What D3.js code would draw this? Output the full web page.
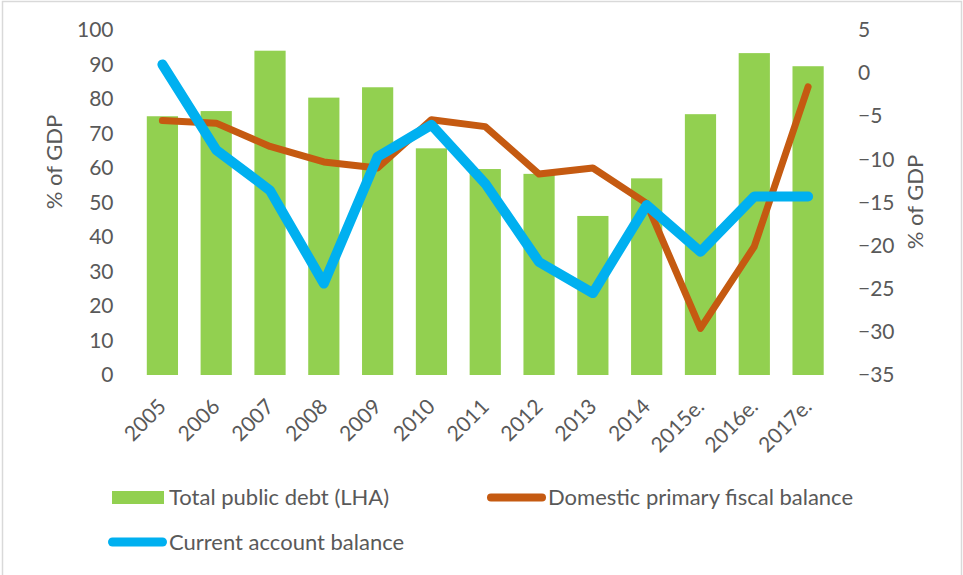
<!DOCTYPE html>
<html>
<head>
<meta charset="utf-8">
<script src="https://cdn.jsdelivr.net/npm/d3@7"></script>
<style>
  html, body { margin: 0; padding: 0; background: #fff; }
  svg { display: block; }
  text { font-family: Lato, "Open Sans", sans-serif; fill: #595959; }
</style>
</head>
<body>
<svg id="chart" width="963" height="575"></svg>
<script>
// Years (last three are estimates)
const years = ["2005", "2006", "2007", "2008", "2009", "2010", "2011", "2012", "2013", "2014", "2015e.", "2016e.", "2017e."];

// Total public debt, % of GDP (left axis)
const publicDebt = [75.0, 76.5, 94.0, 80.4, 83.4, 65.7, 59.7, 58.3, 46.1, 57.0, 75.6, 93.3, 89.5];

// Domestic primary fiscal balance, % of GDP (right axis)
const fiscalBalance = [-5.5, -5.8, -8.5, -10.3, -11.0, -5.4, -6.2, -11.7, -11.0, -15.1, -29.6, -20.1, -1.6];

// Current account balance, % of GDP (right axis)
const currentAccount = [1.0, -8.9, -13.6, -24.4, -9.7, -6.0, -12.8, -21.9, -25.5, -15.3, -20.7, -14.3, -14.3];

// Axis ticks
const leftTicks = [0, 10, 20, 30, 40, 50, 60, 70, 80, 90, 100];
const rightTicks = [5, 0, -5, -10, -15, -20, -25, -30, -35];

const svg = d3.select("#chart");
const W = 963, H = 575;

// frame
svg.append("rect")
  .attr("x", 2.5).attr("y", 1.5)
  .attr("width", W - 4).attr("height", H + 10)
  .attr("fill", "#fff")
  .attr("stroke", "#d9d9d9").attr("stroke-width", 1.5);

const plot = { left: 135.5, right: 835, top: 30, bottom: 375 };

const x = d3.scaleBand()
  .domain(years)
  .range([plot.left, plot.right])
  .paddingInner(0.42)
  .paddingOuter(0.21);

const yL = d3.scaleLinear().domain([0, 100]).range([plot.bottom, plot.top]);
const yR = d3.scaleLinear().domain([-35, 5]).range([plot.bottom, plot.top]);

const green = "#92d050", orange = "#c55a11", blue = "#00b0f0";
const tickSize = 21, labelSize = 22;
const family = "Lato, 'Open Sans', sans-serif";

// bars
svg.append("g").selectAll("rect")
  .data(years)
  .join("rect")
  .attr("x", d => x(d))
  .attr("width", x.bandwidth())
  .attr("y", (d, i) => yL(publicDebt[i]))
  .attr("height", (d, i) => yL(0) - yL(publicDebt[i]))
  .attr("fill", green);

const cx = d => x(d) + x.bandwidth() / 2;

const balanceLine = d3.line()
  .x((d, i) => cx(years[i]))
  .y(d => yR(d));

svg.append("path")
  .datum(fiscalBalance)
  .attr("d", balanceLine)
  .attr("fill", "none")
  .attr("stroke", orange)
  .attr("stroke-width", 7)
  .attr("stroke-linejoin", "round")
  .attr("stroke-linecap", "round");

svg.append("path")
  .datum(currentAccount)
  .attr("d", balanceLine)
  .attr("fill", "none")
  .attr("stroke", blue)
  .attr("stroke-width", 10)
  .attr("stroke-linejoin", "round")
  .attr("stroke-linecap", "round");

// left axis
const axL = svg.append("g")
  .attr("transform", `translate(${plot.left - 22},0)`)
  .call(d3.axisLeft(yL).tickValues(leftTicks).tickSize(0).tickPadding(0));
axL.select(".domain").remove();
axL.selectAll("text")
  .attr("font-size", tickSize)
  .attr("font-family", family)
  .attr("fill", "#595959");

// right axis
const axR = svg.append("g")
  .attr("transform", `translate(${plot.right + 23},0)`)
  .call(d3.axisRight(yR).tickValues(rightTicks).tickSize(0).tickPadding(0));
axR.select(".domain").remove();
axR.selectAll("text")
  .attr("font-size", tickSize)
  .attr("font-family", family)
  .attr("fill", "#595959");

// category axis, rotated labels
const axB = svg.append("g")
  .attr("transform", `translate(0,${plot.bottom})`)
  .call(d3.axisBottom(x).tickSize(0).tickPadding(0));
axB.select(".domain").remove();
axB.selectAll("text")
  .attr("font-size", tickSize)
  .attr("font-family", family)
  .attr("fill", "#595959")
  .attr("text-anchor", "end")
  .attr("dy", null)
  .attr("transform", "translate(5,33) rotate(-45)");

// axis titles
svg.append("text")
  .attr("transform", "translate(62,162) rotate(-90)")
  .attr("text-anchor", "middle")
  .attr("font-size", labelSize)
  .text("% of GDP");

svg.append("text")
  .attr("transform", "translate(923,202) rotate(-90)")
  .attr("text-anchor", "middle")
  .attr("font-size", labelSize)
  .text("% of GDP");

// legend
const legend = svg.append("g");
legend.append("rect")
  .attr("x", 112).attr("y", 491).attr("width", 52).attr("height", 13)
  .attr("fill", green);
legend.append("text")
  .attr("x", 169).attr("y", 505).attr("font-size", labelSize)
  .text("Total public debt (LHA)");

legend.append("line")
  .attr("x1", 491).attr("x2", 542).attr("y1", 497.5).attr("y2", 497.5)
  .attr("stroke", orange).attr("stroke-width", 8).attr("stroke-linecap", "round");
legend.append("text")
  .attr("x", 548).attr("y", 505).attr("font-size", labelSize)
  .text("Domestic primary fiscal balance");

legend.append("line")
  .attr("x1", 112.5).attr("x2", 162.5).attr("y1", 542).attr("y2", 542)
  .attr("stroke", blue).attr("stroke-width", 9).attr("stroke-linecap", "round");
legend.append("text")
  .attr("x", 169).attr("y", 549.5).attr("font-size", labelSize)
  .text("Current account balance");
</script>
</body>
</html>
